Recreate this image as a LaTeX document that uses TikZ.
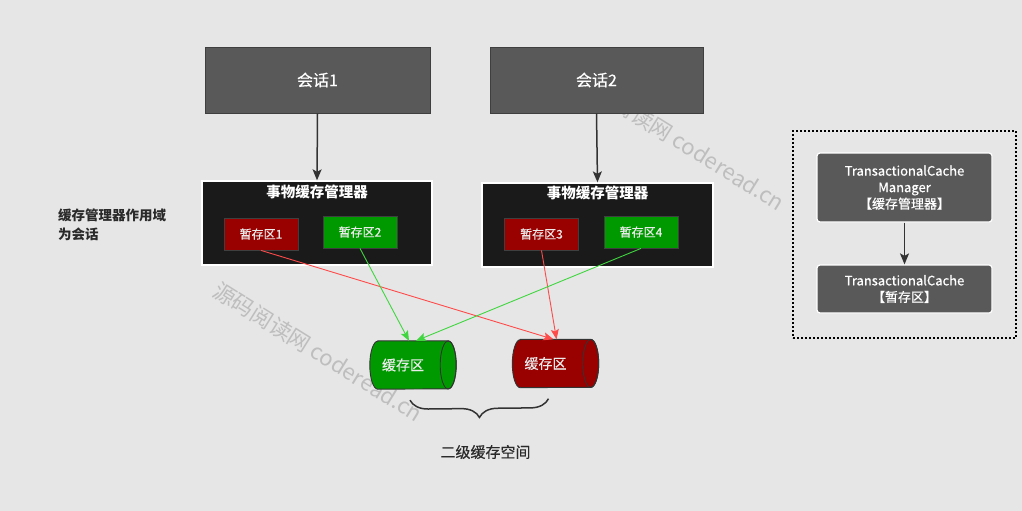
\documentclass[tikz,border=0pt]{standalone}
\usepackage{fontspec}
\setmainfont{Noto Sans CJK SC}
\newfontfamily\medfont[FakeBold=0.5]{Noto Sans CJK SC}
\usetikzlibrary{arrows.meta,decorations.pathreplacing,calc}
\definecolor{bg}{HTML}{E6E6E6}
\definecolor{sess}{HTML}{595959}
\definecolor{sessborder}{HTML}{3F3F3F}
\definecolor{mgr}{HTML}{1A1A1A}
\definecolor{tmpred}{HTML}{990000}
\definecolor{tmpgreen}{HTML}{009900}
\definecolor{linered}{HTML}{FF4A4A}
\definecolor{linegreen}{HTML}{3FD63F}
\definecolor{darkline}{HTML}{333333}
\definecolor{wm}{HTML}{BEBEBE}
\definecolor{txtdark}{HTML}{2A2A2A}
\tikzset{
  sessbox/.style={draw=sessborder, line width=0.8pt, fill=sess, text=white, inner sep=0pt, font=\medfont\fontsize{16}{19}\selectfont},
  mgrbox/.style={draw=white, line width=1.3pt, fill=mgr, inner sep=0pt},
  mgrtitle/.style={text=white, font=\bfseries\fontsize{14.5}{17}\selectfont, inner sep=0pt},
  tmpbox/.style={draw=sessborder, line width=0.8pt, inner sep=0pt, text=white!92!black, minimum width=74pt, minimum height=32pt, font=\medfont\fontsize{12}{14}\selectfont},
  cylnode/.style={inner sep=0pt, minimum width=86pt, minimum height=48pt},
  cyltext/.style={text=white!92!black, font=\medfont\fontsize{14}{17}\selectfont, inner sep=0pt},
  rbox/.style={draw=white, line width=1.2pt, rounded corners=3pt, fill=sess, text=white, inner sep=0pt, align=center, font=\medfont\fontsize{13}{16.5}\selectfont},
  darrow/.style={draw=darkline, line width=1.5pt, -{Stealth[length=11pt,width=9pt,inset=2.5pt]}},
  redarrow/.style={draw=linered, line width=0.9pt, -{Stealth[length=10pt,width=8pt,inset=2pt]}},
  greenarrow/.style={draw=linegreen, line width=0.9pt, -{Stealth[length=10pt,width=8pt,inset=2pt]}},
  wmtext/.style={text=wm, rotate=-32, font=\fontsize{22}{26}\selectfont, inner sep=0pt},
}
\begin{document}
\begin{tikzpicture}[x=1pt,y=-1pt]
\fill[bg] (0,0) rectangle (1022,511);
\useasboundingbox (0,0) rectangle (1022,511);

% watermarks
\node[wmtext] (wm1) at (318,352) {源码阅读网 coderead.cn};
\node[wmtext] (wm2) at (680,141) {源码阅读网 coderead.cn};

% sessions
\node[sessbox, minimum width=225pt, minimum height=66pt] (s1) at (317.5,80) {会话1};
\node[sessbox, minimum width=213pt, minimum height=66pt] (s2) at (596.5,80) {会话2};

% managers
\node[mgrbox, minimum width=230pt, minimum height=84pt] (m1) at (317,223) {};
\node[mgrbox, minimum width=231pt, minimum height=84pt] (m2) at (597.5,225) {};
\node[mgrtitle] (t1) at ($(m1.north)+(0,12)$) {事物缓存管理器};
\node[mgrtitle] (t2) at ($(m2.north)+(0,11)$) {事物缓存管理器};

\draw[darrow] (s1.south) -- (m1.north);
\draw[darrow] (s2.south) -- (m2.north);

% temp areas
\node[tmpbox, fill=tmpred] (z1) at (261,234) {暂存区1};
\node[tmpbox, fill=tmpgreen] (z2) at (360,232) {暂存区2};
\node[tmpbox, fill=tmpred] (z3) at (541.5,234) {暂存区3};
\node[tmpbox, fill=tmpgreen] (z4) at (641,232) {暂存区4};

% cylinders
\node[cylnode] (c1) at (413,365) {};
\node[cylnode] (c2) at (555.5,363.5) {};
\foreach \c/\f in {c1/tmpgreen, c2/tmpred}{
  \draw[fill=\f, draw=darkline, line width=0.9pt]
    ([xshift=8pt]\c.north west) -- ([xshift=-8pt]\c.north east)
    arc[start angle=90, end angle=-90, x radius=8pt, y radius=24pt]
    -- ([xshift=8pt]\c.south west)
    arc[start angle=270, end angle=90, x radius=8pt, y radius=24pt] -- cycle;
  \draw[draw=darkline, line width=0.9pt] ([xshift=-8pt]\c.east) ellipse[x radius=8pt, y radius=24pt];
}
\node[cyltext] (l1) at ([xshift=-10pt]c1.center) {缓存区};
\node[cyltext] (l2) at ([xshift=-10pt]c2.center) {缓存区};

% connectors
\draw[redarrow] (z1.south) -- ([xshift=-2pt]c2.north);
\draw[greenarrow] (z2.south) -- ([xshift=-4pt]c1.north);
\draw[redarrow] (z3.south) -- ([xshift=1pt]c2.north);
\draw[greenarrow] (z4.south) -- ([xshift=3pt]c1.north);

% brace
\draw[draw=darkline, line width=1.5pt, decorate, decoration={brace, amplitude=18pt}]
  ([xshift=-7pt, yshift=-11pt]c2.south) -- ([xshift=-3pt, yshift=-11pt]c1.south);
\node[text=txtdark, font=\medfont\fontsize{15}{18}\selectfont, inner sep=0pt] (lvl2) at (485.5,452) {二级缓存空间};

% left label
\node[anchor=north west, align=left, text=txtdark, font=\bfseries\fontsize{13.5}{19}\selectfont, inner sep=0pt] (scope) at (58,209) {缓存管理器作用域\\为会话};

% right legend
\node[draw=black, line width=1.5pt, dash pattern=on 2pt off 2pt, minimum width=223pt, minimum height=207pt, inner sep=0pt] (legend) at (904.5,234.5) {};
\node[rbox, minimum width=175pt, minimum height=69pt] (tcm) at (904.5,187.5) {TransactionalCache\\Manager\\【缓存管理器】};
\node[rbox, minimum width=175pt, minimum height=48pt] (tc) at (904.5,289) {TransactionalCache\\【暂存区】};
\draw[darrow] (tcm.south) -- (tc.north);
\end{tikzpicture}
\end{document}
